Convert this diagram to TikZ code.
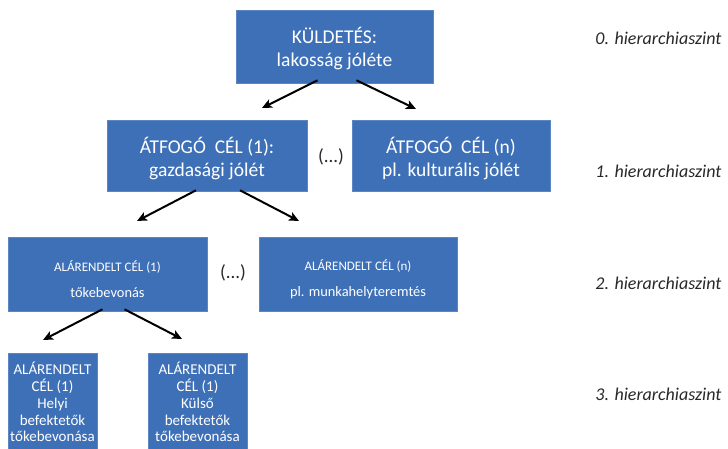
\documentclass[tikz,border=0pt]{standalone}
\usepackage{fontspec}
\setmainfont{Carlito}
\usetikzlibrary{arrows.meta}
\definecolor{boxblue}{RGB}{62,112,184}
\definecolor{labelgray}{RGB}{40,40,40}
\tikzset{
  goal/.style={rectangle, fill=boxblue, draw=boxblue!85!white, line width=0.6pt,
    inner sep=0pt},
  goaltext/.style={text=white, align=center, inner sep=0pt},
  big/.style={goaltext, font=\fontsize{19.5}{23}\selectfont},
  mid/.style={goaltext, font=\fontsize{13}{26}\selectfont},
  small/.style={goaltext, font=\fontsize{15}{16.8}\selectfont},
  dots/.style={font=\fontsize{19}{20}\selectfont, text=labelgray},
  level/.style={anchor=east, font=\fontsize{18}{20}\itshape\selectfont, text=labelgray},
  arr/.style={line width=2pt, -{Stealth[length=10pt,width=9pt,inset=2.5pt]}}
}
\begin{document}
\begin{tikzpicture}[x=1pt,y=-1pt]
\useasboundingbox (0,0) rectangle (728,449);

% boxes
\node[goal, minimum width=197pt, minimum height=73pt] (b0) at (334.5,46.5) {};
\node[goal, minimum width=200pt, minimum height=71pt] (b1a) at (207,155.5) {};
\node[goal, minimum width=198pt, minimum height=71pt] (b1n) at (451,155.5) {};
\node[goal, minimum width=199pt, minimum height=74pt] (b2a) at (107.5,274) {};
\node[goal, minimum width=198pt, minimum height=74pt] (b2n) at (358,274) {};
\node[goal, minimum width=89pt, minimum height=96pt] (b3a) at (52.5,401) {};
\node[goal, minimum width=99pt, minimum height=96pt] (b3b) at (197.5,401) {};

% box texts
\node[big] (b0t) at ([yshift=-2pt]b0.center) {KÜLDETÉS:\\lakosság jóléte};
\node[big] (b1at) at ([yshift=-3pt]b1a.center) {ÁTFOGÓ\ \ CÉL (1):\\gazdasági jólét};
\node[big] (b1nt) at ([yshift=-3pt]b1n.center) {ÁTFOGÓ\ \ CÉL (n)\\pl. kulturális jólét};
\node[mid] (b2at) at ([yshift=-5pt]b2a.center)
  {ALÁRENDELT CÉL (1)\\{\fontsize{14.4}{26}\selectfont tőkebevonás}};
\node[mid] (b2nt) at ([yshift=-5pt]b2n.center)
  {ALÁRENDELT CÉL (n)\\{\fontsize{14.4}{26}\selectfont pl. munkahelyteremtés}};
\node[small] (b3at) at ([yshift=-1pt]b3a.center)
  {ALÁRENDELT\\CÉL (1)\\Helyi\\befektetők\\tőkebevonása};
\node[small] (b3bt) at ([yshift=-1pt]b3b.center)
  {ALÁRENDELT\\CÉL (1)\\Külső\\befektetők\\tőkebevonása};

% ellipses between sibling goals
\node[dots] (d1) at (331,157) {(...)};
\node[dots] (d2) at (233,273) {(...)};

% arrow tips stop short of the next row
\coordinate (t0l) at (262,108);
\coordinate (t0r) at (416,109);
\coordinate (t1l) at (137,221);
\coordinate (t1r) at (299,221);
\coordinate (t2l) at (43,340);
\coordinate (t2r) at (182,339);

\draw[arr] ([xshift=-17pt,yshift=3pt]b0.south) -- (t0l);
\draw[arr] ([xshift=22pt,yshift=3pt]b0.south) -- (t0r);
\draw[arr] ([xshift=-11pt,yshift=1pt]b1a.south) -- (t1l);
\draw[arr] ([xshift=33pt,yshift=1pt]b1a.south) -- (t1r);
\draw[arr] ([xshift=-5pt,yshift=2pt]b2a.south) -- (t2l);
\draw[arr] ([xshift=17pt,yshift=2pt]b2a.south) -- (t2r);

% level labels
\node[level] (l0) at (725,38) {0. hierarchiaszint};
\node[level] (l1) at (725,171) {1. hierarchiaszint};
\node[level] (l2) at (725,283) {2. hierarchiaszint};
\node[level] (l3) at (725,394) {3. hierarchiaszint};
\end{tikzpicture}
\end{document}
